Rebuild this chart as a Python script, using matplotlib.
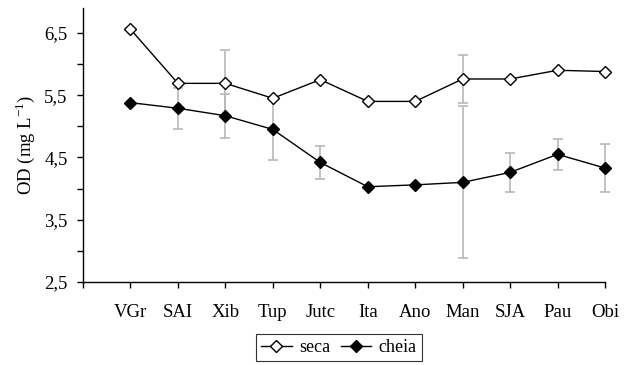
import matplotlib.pyplot as plt

plt.rcParams['font.family'] = ['Liberation Serif', 'DejaVu Serif']
plt.rcParams['mathtext.fontset'] = 'custom'
plt.rcParams['mathtext.rm'] = 'Liberation Serif'

sites = ['VGr', 'SAI', 'Xib', 'Tup', 'Jutc', 'Ita', 'Ano', 'Man', 'SJA', 'Pau', 'Obi']
seca = [6.56, 5.69, 5.69, 5.45, 5.75, 5.40, 5.40, 5.76, 5.76, 5.90, 5.88]
seca_err = [0, 0, 0.54, 0, 0, 0, 0, 0.39, 0, 0, 0]
cheia = [5.38, 5.29, 5.17, 4.95, 4.42, 4.03, 4.06, 4.10, 4.26, 4.55, 4.33]
cheia_err = [0, 0.33, 0.35, 0.49, 0.27, 0, 0, 1.22, 0.31, 0.25, 0.38]

x = list(range(1, len(sites) + 1))

fig = plt.figure(figsize=(6.34, 3.65), dpi=100)
ax = fig.add_axes([83 / 634, 83 / 365, (605 - 83) / 634, (282 - 8) / 365])

err_color = '#b8b8b8'
ax.errorbar(x, seca, yerr=seca_err, fmt='none', ecolor=err_color, elinewidth=1.2,
            capsize=3.5, capthick=1.2, zorder=1, clip_on=False)
ax.errorbar(x, cheia, yerr=cheia_err, fmt='none', ecolor=err_color, elinewidth=1.2,
            capsize=3.5, capthick=1.2, zorder=1, clip_on=False)

ax.plot(x, seca, color='black', lw=1, marker='D', ms=6, mfc='white', mec='black',
        mew=1, label='seca', zorder=3, clip_on=False)
ax.plot(x, cheia, color='black', lw=1, marker='D', ms=6, mfc='black', mec='black',
        mew=1, label='cheia', zorder=3, clip_on=False)

ax.set_xlim(0, 11)
ax.set_ylim(2.5, 6.9)
ax.spines['top'].set_visible(False)
ax.spines['right'].set_visible(False)
for s in ['left', 'bottom']:
    ax.spines[s].set_linewidth(1)

ax.set_xticks(range(0, 12))
ax.set_xticklabels([''] + sites)
ax.set_yticks([2.5, 3.5, 4.5, 5.5, 6.5])
ax.set_yticklabels(['2,5', '3,5', '4,5', '5,5', '6,5'])
ax.set_yticks([3.0, 4.0, 5.0, 6.0], minor=True)
ax.tick_params(axis='x', direction='out', length=4, width=1, pad=12, labelsize=13.5)
ax.tick_params(axis='y', which='both', direction='out', length=4, width=1, pad=7, labelsize=13.5)

ax.set_ylabel('OD (mg L$^{-1}$)', fontsize=13.5, labelpad=5)

leg = ax.legend(loc='upper center', bbox_to_anchor=(0.49, -0.19), ncol=2, fontsize=13,
                frameon=True, fancybox=False, handlelength=1.7, handletextpad=0.4,
                columnspacing=0.6, borderpad=0.28, borderaxespad=0)
leg.get_frame().set_edgecolor('black')
leg.get_frame().set_linewidth(0.8)

fig.savefig('out.png', dpi=100)
